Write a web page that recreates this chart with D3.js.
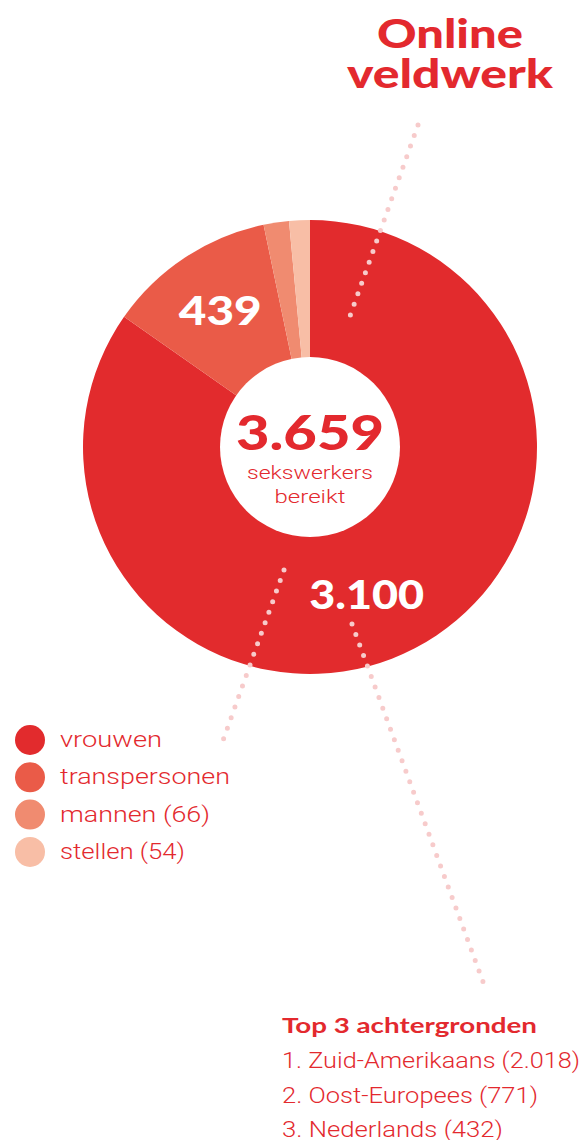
<!DOCTYPE html>
<html>
<head>
<meta charset="utf-8">
<script src="https://cdn.jsdelivr.net/npm/d3@7"></script>
<style>
  body { margin: 0; background: #fff; }
  svg { display: block; }
</style>
</head>
<body>
<svg id="chart" width="585" height="1140"></svg>
<script>
// data
const categories = ["vrouwen", "transpersonen", "mannen", "stellen"];
const values = [3100, 439, 66, 54];
const legendLabels = ["vrouwen", "transpersonen", "mannen (66)", "stellen (54)"];
const colors = ["#e22b2d", "#ea5b48", "#f08b70", "#f8bea6"];
const backgrounds = ["Zuid-Amerikaans", "Oost-Europees", "Nederlands"];
const backgroundValues = [2018, 771, 432];

const red = "#e3292e";
const dotColor = "#f7cbcb";
const heavy = "Lato, 'DejaVu Sans', sans-serif";
const light = "Roboto, 'Open Sans', sans-serif";

const nl = d3.formatLocale({ decimal: ",", thousands: ".", grouping: [3], currency: ["€", ""] });
const fmt = nl.format(",");

const svg = d3.select("#chart");

// layout
const cx = 310, cy = 447;
const outerR = 227, innerR = 90;

const color = d3.scaleOrdinal().domain(categories).range(colors);

const pie = d3.pie().sort(null).value(d => d.value);
const arc = d3.arc().innerRadius(0).outerRadius(outerR);

const data = categories.map((c, i) => ({ label: c, value: values[i] }));
const total = d3.sum(values);

const g = svg.append("g").attr("transform", `translate(${cx},${cy})`);

g.selectAll("path.slice")
  .data(pie(data))
  .enter().append("path")
  .attr("class", "slice")
  .attr("d", arc)
  .attr("fill", d => color(d.data.label));

// white hole
g.append("circle").attr("r", innerR).attr("fill", "#fff");

// dotted leader lines
const leaders = [
  [[418, 125], [350, 316]],
  [[284, 570], [221, 746]],
  [[352, 624], [486, 990]]
];
svg.selectAll("line.leader")
  .data(leaders)
  .enter().append("line")
  .attr("class", "leader")
  .attr("x1", d => d[0][0]).attr("y1", d => d[0][1])
  .attr("x2", d => d[1][0]).attr("y2", d => d[1][1])
  .attr("stroke", dotColor)
  .attr("stroke-width", 5)
  .attr("stroke-linecap", "round")
  .attr("stroke-dasharray", "0 11.2");

// value labels on slices
const labelPos = [
  { r: 158, offset: 6.5 * Math.PI / 180 },
  { r: 163, offset: 0 }
];
pie(data).slice(0, 2).forEach((d, i) => {
  const a = (d.startAngle + d.endAngle) / 2 + labelPos[i].offset;
  const x = Math.sin(a) * labelPos[i].r;
  const y = -Math.cos(a) * labelPos[i].r;
  const t = g.append("text")
    .attr("x", x).attr("y", y + 14)
    .attr("text-anchor", "middle")
    .attr("fill", "#fff")
    .style("font-family", heavy)
    .style("font-weight", 900)
    .style("font-size", "39px")
    .text(fmt(d.data.value));
  t.attr("textLength", i === 0 ? 115 : 83).attr("lengthAdjust", "spacingAndGlyphs");
});

// center text
g.append("text")
  .attr("y", 3)
  .attr("text-anchor", "middle")
  .attr("fill", red)
  .style("font-family", heavy)
  .style("font-weight", 900)
  .style("font-size", "48px")
  .attr("textLength", 148).attr("lengthAdjust", "spacingAndGlyphs")
  .text(fmt(total));

g.append("text")
  .attr("y", 32)
  .attr("text-anchor", "middle")
  .attr("fill", red)
  .style("font-family", light)
  .style("font-weight", 300)
  .style("font-size", "19px")
  .attr("textLength", 126).attr("lengthAdjust", "spacingAndGlyphs")
  .text("sekswerkers");

g.append("text")
  .attr("y", 56)
  .attr("text-anchor", "middle")
  .attr("fill", red)
  .style("font-family", light)
  .style("font-weight", 300)
  .style("font-size", "19px")
  .attr("textLength", 71).attr("lengthAdjust", "spacingAndGlyphs")
  .text("bereikt");

// title
const title = ["Online", "veldwerk"];
const titleW = [146, 206];
svg.selectAll("text.title")
  .data(title)
  .enter().append("text")
  .attr("class", "title")
  .attr("x", 450)
  .attr("y", (d, i) => 48 + i * 40)
  .attr("text-anchor", "middle")
  .attr("fill", red)
  .style("font-family", heavy)
  .style("font-weight", 900)
  .style("font-size", "39px")
  .attr("textLength", (d, i) => titleW[i])
  .attr("lengthAdjust", "spacingAndGlyphs")
  .text(d => d);

// legend
const legendW = [102, 170, 150, 125];
const legend = svg.append("g").attr("transform", "translate(30,740)");
const items = legend.selectAll("g.item")
  .data(categories)
  .enter().append("g")
  .attr("class", "item")
  .attr("transform", (d, i) => `translate(0,${i * 37.3})`);
items.append("circle")
  .attr("r", 15)
  .attr("fill", d => color(d));
items.append("text")
  .attr("x", 30)
  .attr("y", 7)
  .attr("fill", red)
  .style("font-family", light)
  .style("font-weight", 300)
  .style("font-size", "22px")
  .attr("textLength", (d, i) => legendW[i])
  .attr("lengthAdjust", "spacingAndGlyphs")
  .text((d, i) => legendLabels[i]);

// top 3 backgrounds
const bottom = svg.append("g").attr("transform", "translate(282,1033)");
bottom.append("text")
  .attr("fill", red)
  .style("font-family", heavy)
  .style("font-weight", 700)
  .style("font-size", "21px")
  .attr("textLength", 255).attr("lengthAdjust", "spacingAndGlyphs")
  .text("Top 3 achtergronden");

const bgW = [298, 256, 221];
bottom.selectAll("text.bg")
  .data(backgrounds)
  .enter().append("text")
  .attr("class", "bg")
  .attr("y", (d, i) => 35 + i * 34.5)
  .attr("fill", red)
  .style("font-family", light)
  .style("font-weight", 300)
  .style("font-size", "22px")
  .attr("textLength", (d, i) => bgW[i])
  .attr("lengthAdjust", "spacingAndGlyphs")
  .text((d, i) => `${i + 1}. ${d} (${fmt(backgroundValues[i])})`);
</script>
</body>
</html>
